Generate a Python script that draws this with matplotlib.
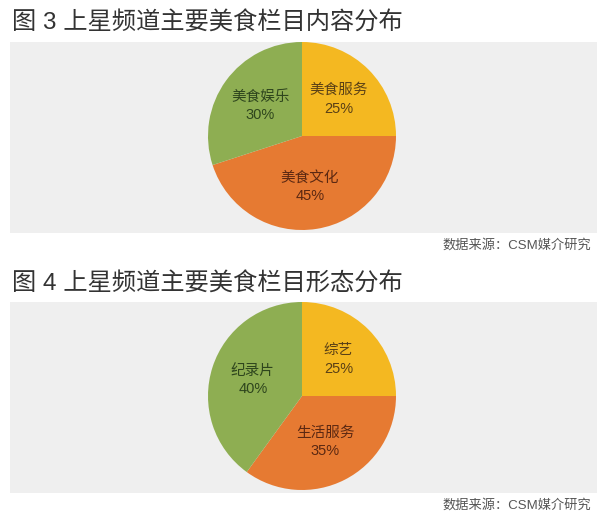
import matplotlib.pyplot as plt
from matplotlib.patches import Rectangle

plt.rcParams['font.family'] = ['Liberation Sans', 'Noto Sans CJK SC', 'DejaVu Sans']

W, H = 600, 518

titles = ["图 3 上星频道主要美食栏目内容分布", "图 4 上星频道主要美食栏目形态分布"]
source = "数据来源：CSM媒介研究"

labels_3 = ["美食服务", "美食文化", "美食娱乐"]
values_3 = [25, 45, 30]
labels_4 = ["综艺", "生活服务", "纪录片"]
values_4 = [25, 35, 40]

wedge_colors = ["#F4B821", "#E67A32", "#8EAE52"]
text_colors = ["#5a4016", "#5b2812", "#2e451d"]

fig = plt.figure(figsize=(W / 100, H / 100), dpi=100)


def px_rect(x0, y0, x1, y1):
    # pixel box (top-left origin) -> figure fraction
    return [x0 / W, 1 - y1 / H, (x1 - x0) / W, (y1 - y0) / H]


panels = [
    (titles[0], labels_3, values_3, 23, (10, 42, 597, 233), 136, 245),
    (titles[1], labels_4, values_4, 284, (10, 302, 597, 493), 396, 505),
]

for title, labels, values, ty, box, cy, sy in panels:
    fig.text(12 / W, 1 - ty / H, title, fontsize=17.5, color="#333333",
             ha="left", va="center")
    bx = px_rect(*box)
    fig.patches.append(Rectangle((bx[0], bx[1]), bx[2], bx[3],
                                 transform=fig.transFigure,
                                 facecolor="#EFEFEF", edgecolor="none",
                                 zorder=-1))
    r = 94
    ax = fig.add_axes(px_rect(302 - r, cy - r, 302 + r, cy + r))
    ax.set_facecolor("none")
    texts = [f"{l}\n{v}%" for l, v in zip(labels, values)]
    wedges, txts = ax.pie(values, labels=texts, colors=wedge_colors,
                          startangle=90, counterclock=False,
                          labeldistance=0.55, radius=1,
                          wedgeprops=dict(linewidth=0),
                          textprops=dict(fontsize=10.5, ha="center",
                                         va="center", linespacing=1.4))
    for t, c in zip(txts, text_colors):
        t.set_color(c)
        t.set_horizontalalignment("center")
    ax.set_xlim(-1, 1)
    ax.set_ylim(-1, 1)
    ax.set_aspect("equal")
    ax.axis("off")
    fig.text(591 / W, 1 - sy / H, source, fontsize=9.5, color="#555555",
             ha="right", va="center")

fig.savefig("out.png", dpi=100)
